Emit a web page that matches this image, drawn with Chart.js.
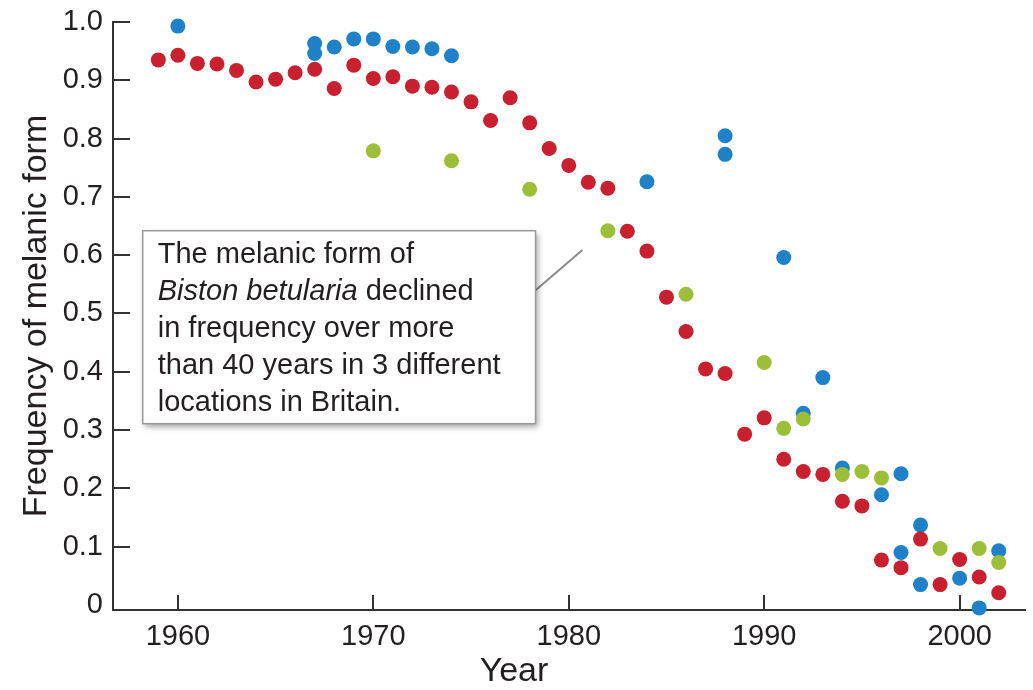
<!DOCTYPE html>
<html>
<head>
<meta charset="utf-8">
<style>
  html, body { margin: 0; padding: 0; background: #fff; }
  #wrap { width: 1033px; height: 690px; }
</style>
<script src="https://cdn.jsdelivr.net/npm/chart.js@4.4.1/dist/chart.umd.min.js"></script>
</head>
<body>
<div id="wrap"><canvas id="chart" width="1033" height="690"></canvas></div>
<script>
// location 1 (red)
const redYears = [1959, 1960, 1961, 1962, 1963, 1964, 1965, 1966, 1967, 1968, 1969, 1970, 1971, 1972, 1973,
  1974, 1975, 1976, 1977, 1978, 1979, 1980, 1981, 1982, 1983, 1984, 1985, 1986, 1987, 1988, 1989, 1990,
  1991, 1992, 1993, 1994, 1995, 1996, 1997, 1998, 1999, 2000, 2001, 2002];
const redValues = [0.935, 0.943, 0.929, 0.928, 0.917, 0.897, 0.902, 0.913, 0.919, 0.886, 0.926, 0.903, 0.906, 0.890, 0.888,
  0.880, 0.863, 0.831, 0.870, 0.827, 0.783, 0.754, 0.725, 0.715, 0.641, 0.607, 0.528, 0.469, 0.405, 0.397, 0.293, 0.321,
  0.250, 0.229, 0.224, 0.178, 0.170, 0.077, 0.064, 0.113, 0.035, 0.078, 0.048, 0.021];

// location 2 (blue)
const blueYears = [1960, 1967, 1967, 1968, 1969, 1970, 1971, 1972, 1973, 1974, 1984, 1988, 1988, 1991, 1992,
  1993, 1994, 1996, 1997, 1997, 1998, 1998, 2000, 2001, 2002];
const blueValues = [0.993, 0.963, 0.946, 0.957, 0.971, 0.971, 0.958, 0.957, 0.954, 0.942, 0.726, 0.805, 0.773, 0.596, 0.329,
  0.390, 0.235, 0.189, 0.225, 0.090, 0.137, 0.035, 0.046, -0.005, 0.093];

// location 3 (green)
const greenYears = [1970, 1974, 1978, 1982, 1986, 1990, 1991, 1992, 1994, 1995, 1996, 1999, 2001, 2002];
const greenValues = [0.779, 0.762, 0.713, 0.642, 0.533, 0.416, 0.303, 0.319, 0.224, 0.229, 0.218, 0.097, 0.097, 0.073];

const xTicks = [1960, 1970, 1980, 1990, 2000];
const yTicks = [0, 0.1, 0.2, 0.3, 0.4, 0.5, 0.6, 0.7, 0.8, 0.9, 1.0];

// annotation text, [text, italic]
const noteLines = [
  [['The melanic form of', false]],
  [['Biston betularia', true], [' declined', false]],
  [['in frequency over more', false]],
  [['than 40 years in 3 different', false]],
  [['locations in Britain.', false]]
];

const FONT = '"Liberation Sans", Arial, Helvetica, sans-serif';
const INK = '#231f20';

const toPoints = (xs, ys) => xs.map((x, i) => ({ x: x, y: ys[i] }));

// ticks that point into the plot
const innerTicks = {
  id: 'innerTicks',
  beforeDatasetsDraw(chart) {
    const { ctx, chartArea, scales } = chart;
    ctx.save();
    ctx.strokeStyle = '#333';
    ctx.lineWidth = 2;
    ctx.beginPath();
    xTicks.forEach(v => {
      const px = Math.round(scales.x.getPixelForValue(v));
      ctx.moveTo(px, chartArea.bottom);
      ctx.lineTo(px, chartArea.bottom - 15);
    });
    yTicks.forEach(v => {
      if (v === 0) return;
      const py = Math.round(scales.y.getPixelForValue(v));
      ctx.moveTo(chartArea.left, py);
      ctx.lineTo(chartArea.left + 17, py);
    });
    ctx.stroke();
    ctx.restore();
  }
};

// call-out box
const noteBox = {
  id: 'noteBox',
  afterDatasetsDraw(chart) {
    const { ctx, scales } = chart;
    const x0 = scales.x.getPixelForValue(1958.2);
    const x1 = scales.x.getPixelForValue(1978.3);
    const y0 = scales.y.getPixelForValue(0.642);
    const y1 = scales.y.getPixelForValue(0.311);
    ctx.save();
    // leader line
    ctx.strokeStyle = '#8a8a8a';
    ctx.lineWidth = 2;
    ctx.beginPath();
    ctx.moveTo(x1, scales.y.getPixelForValue(0.540));
    ctx.lineTo(scales.x.getPixelForValue(1980.7), scales.y.getPixelForValue(0.609));
    ctx.stroke();
    // box
    ctx.shadowColor = 'rgba(0,0,0,0.35)';
    ctx.shadowBlur = 6;
    ctx.shadowOffsetX = 2;
    ctx.shadowOffsetY = 3;
    ctx.fillStyle = '#fff';
    ctx.fillRect(x0, y0, x1 - x0, y1 - y0);
    ctx.shadowColor = 'transparent';
    ctx.strokeStyle = '#999';
    ctx.lineWidth = 1.5;
    ctx.strokeRect(x0, y0, x1 - x0, y1 - y0);
    // text
    ctx.fillStyle = INK;
    ctx.textBaseline = 'middle';
    noteLines.forEach((line, i) => {
      let tx = x0 + 15;
      const ty = y0 + 24 + i * 37;
      line.forEach(([txt, italic]) => {
        ctx.font = (italic ? 'italic ' : '') + '29px ' + FONT;
        ctx.fillText(txt, tx, ty);
        tx += ctx.measureText(txt).width;
      });
    });
    ctx.restore();
  }
};

const dotStyle = color => ({
  backgroundColor: color,
  borderColor: color,
  pointRadius: 7.5,
  pointHoverRadius: 7.5,
  borderWidth: 0,
  clip: false
});

new Chart(document.getElementById('chart'), {
  type: 'scatter',
  data: {
    datasets: [
      Object.assign({ label: 'Location 1', data: toPoints(redYears, redValues) }, dotStyle('#c8202f')),
      Object.assign({ label: 'Location 3', data: toPoints(greenYears, greenValues) }, dotStyle('#9dbe38')),
      Object.assign({ label: 'Location 2', data: toPoints(blueYears, blueValues) }, dotStyle('#1f82c9'))
    ]
  },
  options: {
    responsive: false,
    devicePixelRatio: 1,
    animation: false,
    layout: { padding: { left: 0, right: 5, top: 22, bottom: 0 } },
    plugins: {
      legend: { display: false },
      tooltip: { enabled: false },
      title: {
        display: true,
        position: 'bottom',
        text: 'Year',
        color: INK,
        font: { family: FONT, size: 34, weight: 'normal', lineHeight: 1.1 },
        padding: { top: 0, bottom: 0 }
      }
    },
    scales: {
      x: {
        type: 'linear',
        min: 1956.68,
        max: 2003.37,
        afterBuildTicks: s => { s.ticks = xTicks.map(v => ({ value: v })); },
        afterFit: s => { s.height = 80 - 37.4; },
        grid: { display: false, drawTicks: false },
        border: { display: true, color: '#333', width: 2 },
        ticks: {
          color: INK,
          padding: 10,
          maxRotation: 0,
          font: { family: FONT, size: 29 },
          callback: v => String(v)
        }
      },
      y: {
        min: -0.0086,
        max: 1.0,
        afterBuildTicks: s => { s.ticks = yTicks.map(v => ({ value: v })); },
        afterFit: s => { s.width = 113; },
        grid: { display: false, drawTicks: false },
        border: { display: true, color: '#333', width: 2 },
        ticks: {
          color: INK,
          padding: 10,
          font: { family: FONT, size: 29, lineHeight: 0.7 },
          callback: v => v === 0 ? '0' : v.toFixed(1)
        },
        title: {
          display: true,
          text: 'Frequency of melanic form',
          color: INK,
          font: { family: FONT, size: 34 },
          padding: { top: 16, bottom: 0 }
        }
      }
    }
  },
  plugins: [innerTicks, noteBox]
});
</script>
</body>
</html>
